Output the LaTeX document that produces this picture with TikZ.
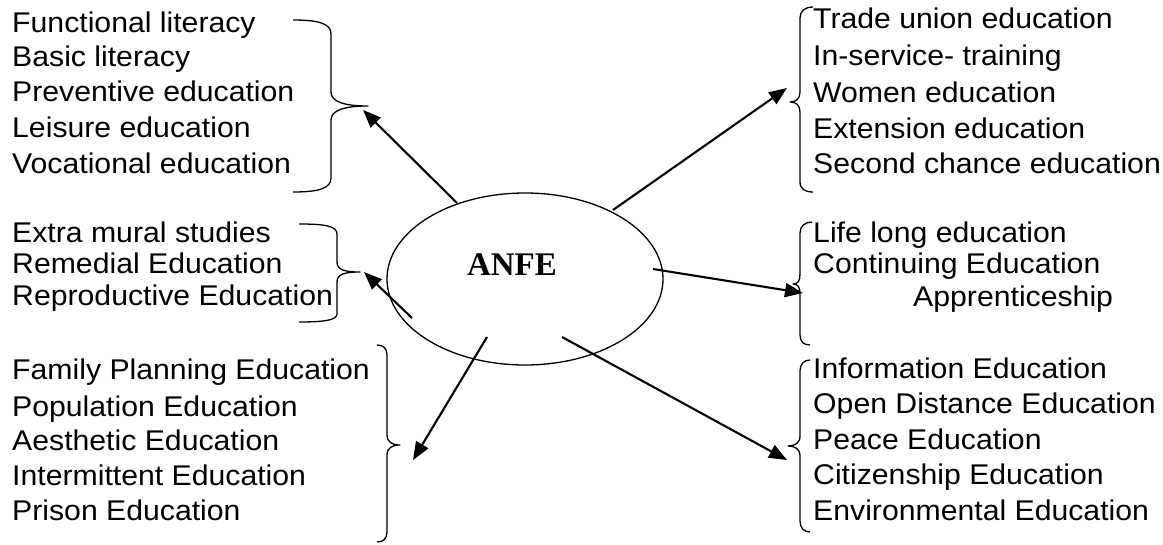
\documentclass[tikz,border=0pt]{standalone}
\usepackage{fontspec}
\setmainfont{Liberation Sans}[FakeStretch=1.06]
\newfontfamily\anfefont{Liberation Serif}
\usepackage{tikz}
\usetikzlibrary{arrows.meta}

\begin{document}
\begin{tikzpicture}[x=1pt,y=1pt,yscale=-1,xscale=1,
    item/.style={anchor=base west, inner sep=0pt, font=\fontsize{28.5}{32}\selectfont},
    link/.style={-{Triangle[length=18pt,width=14pt]}, line width=2.1pt},
    bracket/.style={line width=1.3pt, line join=round}]
    \useasboundingbox (0,0) rectangle (1163,544);

    %Shape: Ellipse
    \draw [line width=1.3pt] (525,279) ellipse [x radius=138, y radius=86];
    % Text Node
    \node [inner sep=0pt, font=\anfefont\bfseries\fontsize{33}{36}\selectfont] (anfe) at (512,265) {ANFE};

    % Text Node: left top group
    \node [item] (func) at (12,32) {Functional literacy};
    \node [item] (basic) at (12,66) {Basic literacy};
    \node [item] (prev) at (12,101) {Preventive education};
    \node [item] (leis) at (12,137) {Leisure education};
    \node [item] (voc) at (12,173) {Vocational education};
    % Text Node: left middle group
    \node [item] (extra) at (12,242) {Extra mural studies};
    \node [item] (remed) at (12,273) {Remedial Education};
    \node [item] (repro) at (12,305) {Reproductive Education};
    % Text Node: left bottom group
    \node [item] (family) at (12,379) {Family Planning Education};
    \node [item] (popul) at (12,416) {Population Education};
    \node [item] (aesth) at (12,450) {Aesthetic Education};
    \node [item] (interm) at (12,485) {Intermittent Education};
    \node [item] (prison) at (12,520) {Prison Education};
    % Text Node: right top group
    \node [item] (trade) at (813,28) {Trade union education};
    \node [item] (inserv) at (813,65) {In-service- training};
    \node [item] (women) at (813,102) {Women education};
    \node [item] (extens) at (813,138) {Extension education};
    \node [item] (second) at (813,173) {Second chance education};
    % Text Node: right middle group
    \node [item] (life) at (813,242) {Life long education};
    \node [item] (contin) at (813,273) {Continuing Education};
    \node [item] (appren) at (913,306) {Apprenticeship};
    % Text Node: right bottom group
    \node [item] (info) at (813,378) {Information Education};
    \node [item] (open) at (813,413) {Open Distance Education};
    \node [item] (peace) at (813,449) {Peace Education};
    \node [item] (citiz) at (813,484) {Citizenship Education};
    \node [item] (envir) at (813,520) {Environmental Education};

    %Shape: Right Brace (left top)
    \draw [bracket] (293,20) .. controls (320,20) and (331,24) .. (331,34) -- (331,92) .. controls (331,102) and (345,106) .. (368,106) .. controls (345,106) and (331,110) .. (331,120) -- (331,178) .. controls (331,188) and (320,192) .. (293,192);
    %Shape: Right Brace (left middle)
    \draw [bracket] (299,224) .. controls (325,224) and (337,226) .. (337,234) -- (337,262) .. controls (337,270) and (345,272) .. (360,272) .. controls (345,272) and (337,274) .. (337,282) -- (337,314) .. controls (337,320) and (325,322) .. (299,322);
    %Shape: Right Brace (left bottom)
    \draw [bracket] (377,345) .. controls (383,345) and (387,348) .. (387,355) -- (387,435) .. controls (387,442) and (392,445) .. (400,445) .. controls (392,445) and (387,448) .. (387,455) -- (387,532) .. controls (387,539) and (383,542) .. (377,542);
    %Shape: Left Brace (right top)
    \draw [bracket] (813,7) .. controls (805,7) and (800,11) .. (800,18) -- (800,92) .. controls (800,99) and (796,102) .. (790,102) .. controls (796,102) and (800,105) .. (800,112) -- (800,182) .. controls (800,189) and (805,192) .. (813,192);
    %Shape: Left Brace (right middle)
    \draw [bracket] (812,222) .. controls (805,222) and (800,226) .. (800,233) -- (800,274) .. controls (800,281) and (798,284) .. (793,284) .. controls (798,284) and (800,287) .. (800,294) -- (800,335) .. controls (800,342) and (804,345) .. (810,345);
    %Shape: Left Brace (right bottom)
    \draw [bracket] (810,360) .. controls (804,360) and (800,364) .. (800,371) -- (800,436) .. controls (800,443) and (795,446) .. (788,446) .. controls (795,446) and (800,449) .. (800,456) -- (800,521) .. controls (800,528) and (804,532) .. (810,532);

    % arrow ends
    \coordinate (t1) at (457,203);
    \coordinate (h1) at (363,110);
    \coordinate (t2) at (412,318);
    \coordinate (h2) at (364,272);
    \coordinate (t3) at (487,337);
    \coordinate (h3) at (413,460);
    \coordinate (t4) at (613,210);
    \coordinate (h4) at (787,88);
    \coordinate (t5) at (653,269);
    \coordinate (h5) at (803,293);
    \coordinate (t6) at (562,337);
    \coordinate (h6) at (787,460);

    %Straight Lines with arrows
    \draw [link] (t1) -- (h1);
    \draw [link] (t2) -- (h2);
    \draw [link] (t3) -- (h3);
    \draw [link] (t4) -- (h4);
    \draw [link] (t5) -- (h5);
    \draw [link] (t6) -- (h6);

\end{tikzpicture}
\end{document}
